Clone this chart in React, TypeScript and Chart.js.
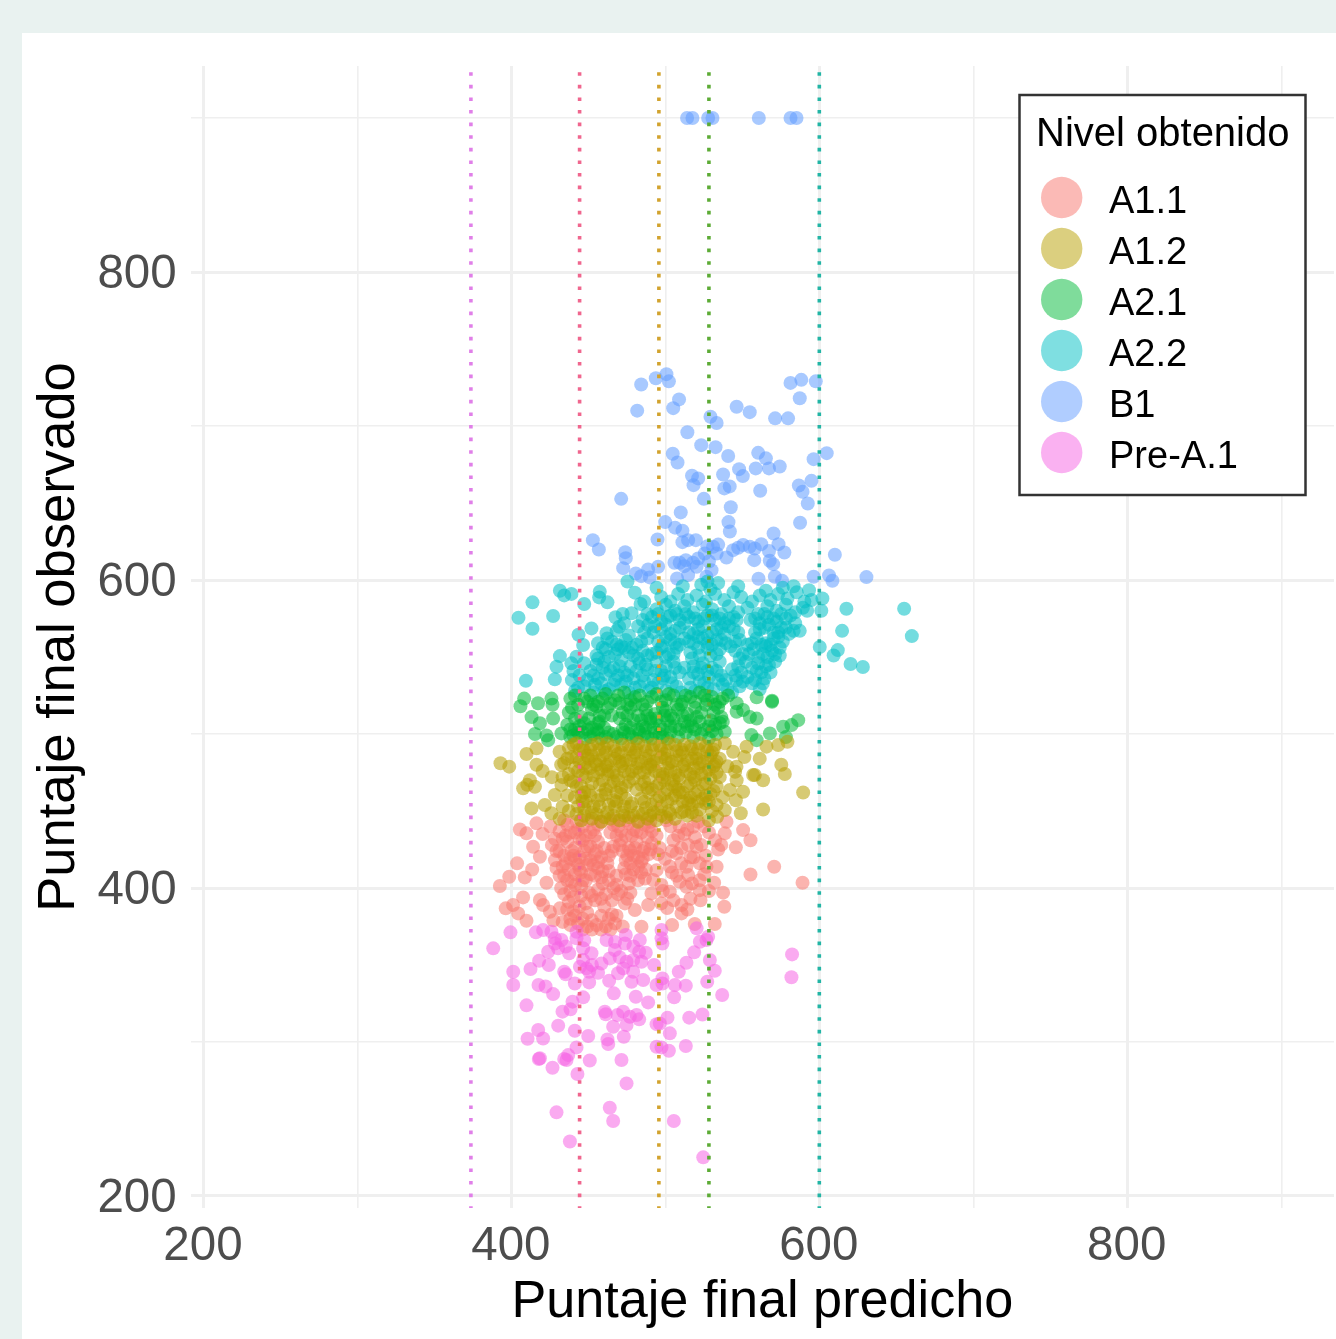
import React, { useEffect, useRef } from "react";
import { Chart, registerables } from "chart.js";

Chart.register(...registerables);

const levelNames = ["A1.1", "A1.2", "A2.1", "A2.2", "B1", "Pre-A.1"];
const levelColors = ["#F8766D", "#B79F00", "#00BA38", "#00BFC4", "#619CFF", "#F564E3"];
const drawOrder = [4, 2, 5, 6, 7, 3];

const cutPoints = [373.4, 444, 495.5, 528, 599.7];
const cutColors = ["#E07FE8", "#F0668E", "#D2A32E", "#5CAB35", "#22B5A5"];

const axisMin = 191.4;
const axisMax = 934;
const yAxisMin = 192.2;
const yAxisMax = 933.8;
const gridValues = [200, 300, 400, 500, 600, 700, 800, 900];
const labelledValues = [200, 400, 600, 800];

const b1: number[][] = [
  [484,727],[493.5,731],[500.4,733.7],[502,729],[481.4,710],[504.8,711.6],[508.6,717.3],[529,706],[533,702],[546,712.5],[554.5,709],[571,705],[579.4,705],[581,728],[588,730],[597.4,729],[587,718],[514,696],[523,687.6],[532.3,686.3],[504.5,682],[507.6,676.3],[540.5,680.5],[560,682.6],[565,679],[558.4,672.5],[567,672.5],[574,673.7],[596,678.5],[604.5,682.4],[547.6,672],[550,667.5],[537.2,668.5],[517,667.7],[521,666],[518,661.6],[538,659.5],[541.5,660.8],[561.3,658],[586.4,661.4],[594.6,664.4],[588.8,657.3],[592.2,649.7],[524.7,652.7],[471,652.7],[542.2,647.3],[509.7,643.9],[540.7,637.6],[541.6,631.5],[587.2,637.2],[499.6,637.6],[506,634],[510.8,632],[570,630.2],[452.6,625.9],[456.5,619.8],[494.6,626.3],[510.8,624.6],[514.5,625.9],[519.5,625.9],[573.2,623.3],[577,617.9],[567,618.8],[473.6,618.1],[474,614.2],[472.3,607.7],[609.8,616.4],[505.6,611.2],[509,611.2],[513,612.9],[517.7,611.2],[521,614],[525.3,617.2],[530.7,621.6],[533,617.2],[539.4,614.6],[543.7,619.4],[550.2,622.7],[554.5,621.6],[557.8,620.5],[562,623.3],[557.4,612.9],[567.5,612.5],[569.7,610.3],[480.5,604.2],[484,602.5],[488.5,606.8],[489.6,601.7],[495,608.6],[507.3,601],[514.5,603.2],[529.7,606.4],[526.4,602.1],[520,608.6],[560.2,600.8],[570.8,602.1],[575.5,599.5],[596,602.1],[606,603],[608.2,599.5],[630.3,601.9],[527,622],[534,623],[528,612],[512,609],[547,621],
  [513.8,900],[517.3,900],[527.5,900],[530.3,900],[560.4,900],[581,900],[584.9,900],
];

const a22: number[][] = [
  [404.3,575.5],[413.4,585.5],[413.4,568.4],[426.8,576.6],[431.2,593],[438.7,591],[434,590],[457.1,592.4],[456.7,588.7],[462.1,585.5],[447,584.4],[475.1,599],[479.9,591.8],[483.6,584.4],[477.7,578.4],[467.3,575.8],[451.7,568.6],[443.3,564.5],[461.5,565.4],[469.7,569.7],[488.5,570.8],[431.2,550.6],[429,543.7],[427.9,535.5],[409.1,534.6],[438.7,545.9],[442,550.2],[446.3,557.8],[593,593.4],[594.6,587],[601.7,588],[591.8,580],[601,580],[617.3,581.3],[614.5,567],[654.8,581.3],[659.8,563.6],[600,556.5],[611.7,554.5],[609,551],[620,545.5],[628,543.5],
  [441,528],[447,531],[453,527],[458,533],[463,529],[471,532],[476,527],[483,531],[489,528],[495,533],[500,528],[507,531],[519,528],[525,533],[531,529],[537,532],[543,527],[548,531],[556,533],[561,529],
  [439,535],[444,538],[451,541],[456,536],[461,539],[467,535],[473,540],[479,536],[485,538],[492,535],[497,541],[503,537],[509,540],[515,536],[521,539],[528,537],[533,541],[539,535],[545,538],[550,534],[559,541],[564,536],[568,540],
  [440,541],[447,546],[455,545],[460,547],[466,543],[471,548],[477,544],[483,546],[488,542],[494,547],[500,544],[505,547],[518,544],[524,546],[530,543],[535,547],[547,544],[552,547],[560,546],[565,544],[571,547],
  [455,551],[461,555],[467,552],[473,556],[479,551],[485,554],[491,552],[497,556],[502,552],[507,556],[516,553],[522,551],[527,556],[533,552],[545,554],[550,552],[557,555],[563,552],[569,554],[574,551],[565,557],
  [456,559],[462,562],[468,558],[474,561],[481,558],[495,560],[500,563],[506,559],[512,562],[518,559],[524,562],[530,558],[536,561],[542,557],[548,561],[553,558],[559,562],[565,559],[570,562],[576,560],[574,556],
  [476,564],[492,566],[497,568],[503,565],[509,569],[515,566],[521,568],[527,564],[533,568],[538,565],[544,568],[558,566],[564,569],[570,566],[575,569],[580,565],
  [485,574],[491,576],[497,573],[503,577],[509,574],[515,576],[521,573],[527,577],[532,574],[538,572],[544,576],[555,574],[561,572],[566,576],[572,573],[578,575],[584,572],[587,567],
  [494,581],[500,584],[506,580],[512,583],[518,579],[524,584],[530,581],[536,578],[541,583],[547,579],[553,582],[560,578],[566,583],[572,580],[578,584],[584,579],[589,582],
  [497,589],[503,586],[508,591],[514,587],[520,590],[526,586],[532,591],[538,587],[544,592],[549,589],[556,586],[561,590],[568,587],[573,591],[579,588],[585,592],[590,586],
  [494,595],[511,596],[523,597],[529,594],[534,598],[527,599],[547,596],[565,593],[576,595],[583,596],
  [443,530],[449,535],[454,532],[460,528],[466,532],[469,538],[474,534],[480,530],[486,534],[491,530],[498,536],[504,533],[510,527],[516,530],[522,534],[527,530],[534,535],[540,529],[546,535],[553,537],[558,535],[563,533],
  [453,538],[459,543],[464,541],[470,544],[475,538],[481,541],[487,545],[493,541],[499,538],[506,543],[512,543],[518,540],[523,543],[527,541],[536,538],[543,542],[549,540],[556,543],[562,540],[567,545],
  [456,549],[463,550],[469,555],[476,553],[482,549],[488,551],[494,553],[500,550],[505,552],[517,549],[521,556],[529,551],[535,555],[548,549],[554,552],[560,550],[566,550],[571,552],
  [459,556],[465,560],[471,557],[478,556],[484,560],[498,557],[503,561],[509,558],[515,560],[521,563],[527,559],[533,561],[539,559],[545,560],[556,559],[562,558],[568,558],[573,563],
  [493,570],[500,571],[506,567],[512,572],[518,565],[524,570],[530,566],[536,569],[541,570],[547,566],[561,568],[567,571],[573,566],[578,569],[583,567],
  [488,578],[495,578],[501,576],[507,578],[513,578],[519,575],[525,575],[530,577],[535,575],[541,575],[546,574],[558,575],[564,578],[570,575],[575,578],[581,577],
  [486,566],[482,570],[488,562],[473,572],[468,567],[472,578],[486,586],
];

const a21: number[][] = [
  [405.6,518],[408,523],[417,520],[425.7,523],[426.4,519],[412.8,511],[418.2,507],[426.8,510],[415,500],[422.5,499],[423.6,496],[432.2,500.4],
  [540.5,525],[546,520],[550.2,515.6],[546,514.5],[554.6,511],[559,510],[559,523.8],[569,521.6],[569,521],[538.3,501.5],[555.6,499.3],[559,496],[567.6,500.4],[576.2,504.7],[581.6,505.8],[586,509],[578,498],
  [438,523],[443,519],[451,525],[456,521],[461,526],[467,522],[473,527],[477,522],[483,525],[488,521],[494,526],[500,522],[505,525],[511,521],[516,524],[522,527],[527,522],[532,519],[537,523],
  [437,514],[441,510],[452,516],[457,512],[462,517],[472,514],[477,517],[482,512],[487,516],[493,513],[498,517],[503,512],[508,516],[514,513],[519,517],[531,514],[536,511],[534,517],
  [436,506],[441,503],[447,507],[452,504],[457,508],[474,506],[479,509],[485,505],[490,508],[496,505],[501,509],[506,505],[512,508],[517,505],[522,508],[532,506],[537,508],
  [438,498],[443,501],[448,497],[453,500],[458,497],[463,501],[468,498],[473,501],[478,498],[483,501],[488,498],[493,501],[498,498],[503,501],[508,498],[513,501],[518,498],[523,500],[528,497],[533,500],
  [440,499],[446,501],[451,498],[456,501],[461,498],[466,500],[471,497],[476,500],[481,497],[486,500],[491,497],[496,500],[501,497],
  [465,512],[470,520],[480,519],[490,510],[500,515],[510,519],[520,511],[526,519],[528,505],[455,518],[445,511],[449,521],
  [441,525],[447,523],[453,519],[459,523],[464,520],[469,525],[475,519],[480,524],[485,519],[491,524],[497,521],[502,526],[507,519],[513,525],[519,521],[525,525],[530,524],[535,521],
  [439,517],[450,510],[456,507],[460,512],[470,510],[475,512],[484,509],[488,512],[494,510],[499,512],[505,510],[511,512],[516,509],[523,514],[529,509],[535,507],[530,502],
  [438,503],[444,505],[449,503],[455,503],[460,504],[472,503],[477,504],[482,503],[487,504],[492,504],[498,503],[503,505],[509,503],[514,505],[519,503],[525,503],
];

const a12: number[][] = [
  [392.6,481],[398.3,478.8],[409.5,487],[416,490.7],[431,488.5],[407.3,464.7],[411.7,470],[415,465.8],[427.9,460.4],[412.8,451.7],[421.4,453.9],[425.7,448.5],[432.2,466.9],[420,476],[426,472],[434,481],[437,474],[416,480],[410,467],[433,453],[431,445],
  [535,472],[541.6,463.6],[550.2,462.5],[545.5,457],[538.3,450.6],[533,453.9],[533.3,446.3],[548.7,448.5],[563.2,451],[589.2,462],[545,475.5],[557.8,473.4],[563.2,470],[577.3,474],[538.3,494],[543.7,488.5],[535,484],[552.4,491.8],[545.9,478.8],[565.4,491.8],[561,484],[573,492.8],[579,495],[575,480],[556.7,473.4],[540,479],[551,485],[546,470],[537,459],[528,444],
  [437,491],[442,494],[447,489],[452,493],[457,490],[462,494],[467,489],[472,493],[477,490],[482,494],[487,489],[492,493],[497,490],[502,494],[507,489],[512,493],[517,490],[522,494],[527,489],[532,493],
  [439,485],[444,482],[449,486],[454,482],[459,486],[464,483],[469,487],[474,483],[479,486],[484,482],[489,486],[494,483],[499,487],[504,482],[509,486],[514,483],[519,487],[524,482],[529,486],[533,482],
  [441,478],[446,474],[451,478],[456,475],[461,479],[466,475],[471,479],[476,474],[481,478],[486,475],[491,479],[496,474],[501,478],[506,475],[511,479],[516,474],[521,478],[526,475],[531,479],
  [440,469],[445,466],[450,463],[459,470],[464,466],[469,470],[474,466],[479,471],[484,467],[489,471],[494,466],[499,470],[504,467],[509,471],[514,466],[519,470],[524,467],[529,471],[533,466],
  [441,459],[446,456],[451,460],[456,457],[461,461],[466,457],[471,461],[484,458],[489,462],[494,457],[499,461],[504,458],[509,462],[514,457],[519,461],[524,458],[529,461],
  [437,450],[442,448],[447,452],[452,449],[457,453],[462,449],[467,453],[472,449],[477,453],[482,449],[487,452],[492,449],[497,453],[502,450],[507,453],[512,450],[517,454],[522,451],[526,455],
  [445,444],[452,445],[458,443],[464,445],[470,444],[476,446],[482,443],[488,445],[494,444],[500,446],[506,445],[514,447],[520,447],
  [444,490],[450,484],[455,480],[460,491],[470,482],[480,488],[490,480],[500,484],[510,490],[520,484],[530,488],[445,460],[457,467],[468,462],[478,476],[488,465],[498,474],[508,464],[518,472],[528,456],[448,472],[462,474],[474,458],[495,450],[505,470],[515,455],
  [436,484],[438,470],[436,460],[433,472],[432,480],
  [440,493],[446,491],[451,490],[456,494],[461,488],[466,492],[471,488],[476,492],[481,490],[486,492],[491,490],[496,492],[501,489],[506,493],[511,488],[516,492],[521,490],[526,492],[531,490],
  [442,485],[447,481],[452,486],[457,483],[462,480],[467,484],[472,481],[477,483],[482,481],[487,484],[492,482],[497,485],[502,481],[507,483],[512,480],[517,484],[522,481],[527,484],[532,480],
  [443,476],[448,478],[453,473],[458,477],[463,476],[468,473],[473,476],[483,475],[488,478],[493,476],[498,472],[503,476],[508,473],[513,476],[518,478],[523,474],[528,477],[533,475],
  [442,466],[447,462],[452,468],[461,464],[466,469],[471,465],[476,469],[481,464],[486,469],[491,464],[496,468],[501,464],[506,466],[511,462],[516,468],[521,463],[526,468],[531,463],
  [443,453],[448,456],[453,453],[458,460],[463,454],[468,456],[473,453],[478,455],[486,456],[491,454],[496,459],[501,456],[506,460],[511,456],[516,459],[521,456],[526,460],[530,450],
  [447,447],[455,448],[460,446],[466,447],[473,447],[479,447],[485,448],[490,447],[497,447],[503,448],[510,449],[517,449],
];

const a11: number[][] = [
  [405.2,438],[409.5,435.5],[413.8,426.8],[418.2,420.3],[403.4,416],[413.2,412],[408.4,406.9],[398.3,407.3],[392.2,401.3],[407.3,393.9],[400.8,389],[396,386.8],[404.1,383.5],[409.5,378.7],[418.2,392.2],[420.3,389],[424.7,384.6],[431.2,386.8],[422.5,403.4],[416,442],[420,435],[425,440],[428,432],
  [539.4,443],[538.3,435.5],[536,428],[534,425],[545.5,426.4],[550.2,437.6],[555,431],[570.4,413.8],[555,408.8],[588.8,403.4],[533,413.8],[526.4,413.8],[531.4,403.4],[537.2,397],[522.5,392],[538,387.8],[531.8,376.6],[518.8,376.6],[510.2,389],[510.2,383.5],[500.9,387],[504.1,376],[479.9,385.7],[484.2,374.8],[488.5,389],[473.4,390],[502.6,397.6],[522,398.6],[513.4,400.8],[522,405],[521,443],[517.8,439.8],[509,439.8],[500.4,444],[514.5,428],[520,426.8],[513.4,413.8],[514.5,408.4],[507,422.5],[499.4,419],[502.6,414],[494,411.6],[491.8,405.2],[486.4,406.2],[497.2,402],[490.7,396.5],[525,440],[512,435],[505,431],[518,420],[510,416],[516,393],[507,408],
  [426,428],[431,424],[436,430],[441,426],[446,431],[451,427],[456,430],[466,427],[471,431],[476,426],[481,430],[486,426],[491,429],[496,426],
  [428,418],[433,414],[438,419],[443,415],[448,419],[453,415],[458,420],[463,421],[474,418],[479,421],[484,417],[489,422],[431,408],[436,405],[441,409],[446,405],[451,409],[458,407],[463,411],[468,408],[474,409],[479,412],[484,410],
  [431,437],[436,441],[441,436],[446,440],[451,436],[456,441],[466,441],[471,437],[476,442],[481,437],[486,441],[491,437],[434,444],[442,443],[450,444],[458,443],[466,444],[474,444],[482,444],[490,443],
  [432,400],[438,398],[445,401],[445,395],[450,397],[456,399],[461,396],[466,400],[471,398],[477,397],[448,390],[454,392],[460,388],[465,392],[449,384],[458,382],[465,383],[438,380],[443,377],[449,375],[455,376],[461,375],[467,377],[472,375],[433,378],[427,379],[440,385],[444,388],[437,391],
  [435,434],[444,432],[454,434],[460,426],[468,434],[478,434],[488,433],[440,421],[447,424],[455,424],[462,416],[477,424],[485,424],[429,413],[437,412],[445,410],[456,413],[472,424],[482,405],[459,403],[441,402],[448,405],[468,402],[463,405],[476,403],
  [429,424],[434,421],[439,424],[444,420],[449,427],[454,422],[465,424],[470,428],[475,421],[480,426],[485,419],[490,425],[495,422],[433,432],[438,436],[443,438],[448,434],[453,438],[464,436],[469,440],[474,434],[479,438],[484,436],[489,440],[494,434],
  [434,408],[439,404],[444,412],[449,415],[454,408],[459,411],[473,413],[477,408],[482,414],[487,412],[435,416],[441,418],[451,418],[456,417],[477,416],[482,420],[434,396],[440,394],[452,395],[458,393],[469,396],[475,393],[441,382],[446,380],[452,379],[463,380],[468,382],[436,386],
  [503,440],[508,434],[514,438],[519,433],[523,428],[528,436],[532,431],[504,424],[510,426],[516,420],[522,416],[526,421],[504,410],[509,404],[517,403],[525,409],[528,398],[498,398],[505,392],[514,386],[497,390],[438,376],[446,373],[452,373],[458,373],[464,373],
];

const preA1: number[][] = [
  [387.9,360.8],[399.1,371.2],[400.9,345.6],[400.9,337],[415.6,371.2],[425.7,371.6],[420.3,372.7],[427.9,367.3],[432.2,366.2],[430,360.8],[423.6,358.6],[417.7,352.8],[412.1,347.4],[424,350],[437.2,357.6],[434,345.6],[435,344],[442,371.6],[442,367.3],[446.3,360.8],[451.7,357.6],[446.3,353.2],[448.5,347.8],[444.2,348.9],[450.2,345.6],[440.9,338],[450.2,338.7],[417.3,337],[421.9,336],[426.8,331.1],[446.3,329],[439.4,326.2],[438.1,321.2],[432.9,319.7],[409.5,323.8],[430.1,310.6],[417.1,307.8],[410.2,302.1],[420.3,302.3],[440.9,307.3],[449.6,303.9],[442,296.5],[417.5,289],[418.2,289.4],[436.6,291.5],[435.5,288.3],[434,289],[426.4,283.3],[450.6,288],[442.6,279.2],[471.2,288.3],[474.5,273.1],[429,254.3],[463.6,257.3],[465.8,248.7],[505.2,248.7],[437.7,235.4],[524.3,225.1],
  [461.5,366.2],[474,369.5],[473.4,364],[483.1,366.2],[466.9,359.7],[463.6,354.3],[458.2,351],[474.5,352.1],[482.7,358.6],[484.2,352.1],[478.8,353.2],[472.3,347.8],[478.8,345.6],[469,344.6],[463.2,339.8],[477.7,339.1],[485.3,340.2],[492.4,350],[466.2,331.6],[480.5,329.4],[488.5,325.7],[505.4,329],[460.4,319.7],[461,318],[468.6,317.5],[472.3,319.7],[476.6,316.4],[481,317.5],[482.7,314.7],[474.5,311],[465.8,309.9],[472.7,303.4],[462.1,301.7],[462.6,298.7],[494,311.6],[496.1,312],[501.1,315.8],[515.2,315.8],[523.8,317.9],[502.6,305.6],[513,297.4],[494,296.9],[497.2,296.5],[502,294.3],[494,337],[497.8,338],[505.9,337],[513,336.6],[497.8,341.3],[497.2,372.7],[497.8,364],[497.2,367.3],[508.4,345.6],[513.4,351.5],[518.4,358.2],[522.1,365.1],[526.4,366.2],[527.5,368.4],[520,373.8],[528.6,353.2],[531.8,346.3],[526.9,339.1],[536.6,330.5],[582,356.9],[581.6,342],
  [428,364],[435,362],[447,366],[452,350],[467,365],[479,362],[487,358],[470,355],[456,345],
];

const pointSets = [a11, a12, a21, a22, b1, preA1];

function App() {
  const ref = useRef<HTMLCanvasElement | null>(null);

  useEffect(() => {
    document.body.style.margin = "0";
    const legendPlugin = {
      id: "boxedLegend",
      afterDatasetsDraw(chart: any) {
        const c = chart.ctx;
        c.save();
        c.fillStyle = "#FFFFFF";
        c.strokeStyle = "#333333";
        c.lineWidth = 2.5;
        c.fillRect(997.5, 62, 286, 400);
        c.strokeRect(997.5, 62, 286, 400);
        c.fillStyle = "#000000";
        c.textAlign = "left";
        c.textBaseline = "alphabetic";
        c.font = "40px 'Liberation Sans'";
        c.fillText("Nivel obtenido", 1014, 113);
        c.font = "38px 'Liberation Sans'";
        levelNames.forEach((name, i) => {
          const y = 164.5 + i * 51;
          c.globalAlpha = 0.5;
          c.fillStyle = levelColors[i];
          c.beginPath();
          c.arc(1039.7, y, 20.7, 0, Math.PI * 2);
          c.fill();
          c.globalAlpha = 1;
          c.fillStyle = "#000000";
          c.fillText(name, 1087, y + 15);
        });
        c.restore();
      },
    };

    const scatter = levelNames.map((name, i) => ({
      type: "scatter",
      label: name,
      data: pointSets[i].map(([x, y]) => ({ x, y })),
      backgroundColor: levelColors[i] + "8C",
      borderWidth: 0,
      pointRadius: 7,
      order: drawOrder[i],
    }));
    const cuts = cutPoints.map((x, i) => ({
      type: "line",
      label: "corte " + (i + 1),
      data: [{ x, y: yAxisMin }, { x, y: yAxisMax }],
      borderColor: cutColors[i],
      borderWidth: 3.6,
      borderDash: [3.6, 9],
      borderDashOffset: 1.8,
      pointRadius: 0,
      order: 1,
    }));

    const gridOpts = {
      color: "#EFEFEF",
      lineWidth: (ctx: any) => (ctx.tick && labelledValues.includes(ctx.tick.value) ? 3 : 1.6),
      drawTicks: false,
    };
    const tickOpts = {
      includeBounds: false,
      autoSkip: false,
      maxRotation: 0,
      color: "#4D4D4D",
      font: { family: "'Liberation Sans'", size: 47.5 },
      callback: (v: number) => (labelledValues.includes(v) ? String(v) : ""),
    };
    const setTicks = (s: any) => {
      s.ticks = gridValues.map((value) => ({ value }));
    };

    const chart = new Chart(ref.current as HTMLCanvasElement, {
      type: "scatter",
      data: { datasets: [...cuts, ...scatter] as any },
      plugins: [legendPlugin],
      options: {
        animation: false,
        responsive: false,
        layout: { autoPadding: false, padding: { top: 33, right: 2, left: 0, bottom: 0 } },
        plugins: { legend: { display: false }, tooltip: { enabled: false } },
        scales: {
          x: {
            type: "linear",
            min: axisMin,
            max: axisMax,
            border: { display: false },
            grid: gridOpts,
            ticks: { ...tickOpts, padding: 10, labelOffset: -1 },
            afterBuildTicks: setTicks,
            afterFit: (s: any) => {
              s.height = 131;
              s.paddingLeft = 0;
              s.paddingRight = 0;
            },
            title: {
              display: true,
              text: "Puntaje final predicho",
              color: "#000000",
              font: { family: "'Liberation Sans'", size: 52.2 },
              padding: { top: 0, bottom: 5 },
            },
          },
          y: {
            type: "linear",
            min: yAxisMin,
            max: yAxisMax,
            border: { display: false },
            grid: gridOpts,
            ticks: { ...tickOpts, padding: 14, labelOffset: 3 },
            afterBuildTicks: setTicks,
            afterFit: (s: any) => {
              s.width = 168.7;
              s.paddingTop = 0;
              s.paddingBottom = 0;
            },
            title: {
              display: true,
              text: "Puntaje final observado",
              color: "#000000",
              font: { family: "'Liberation Sans'", size: 52.6 },
              padding: { top: 6, bottom: 0 },
            },
          },
        },
      } as any,
    });
    return () => chart.destroy();
  }, []);

  return (
    <div style={{ position: "absolute", left: 0, top: 0, width: 1336, height: 1339, background: "#E9F2F0", overflow: "hidden" }}>
      <canvas
        ref={ref}
        width={1314}
        height={1306}
        style={{ position: "absolute", left: 22, top: 33, width: 1314, height: 1306, background: "#FFFFFF", display: "block", filter: "blur(0.6px)" }}
      />
    </div>
  );
}

export default App;
